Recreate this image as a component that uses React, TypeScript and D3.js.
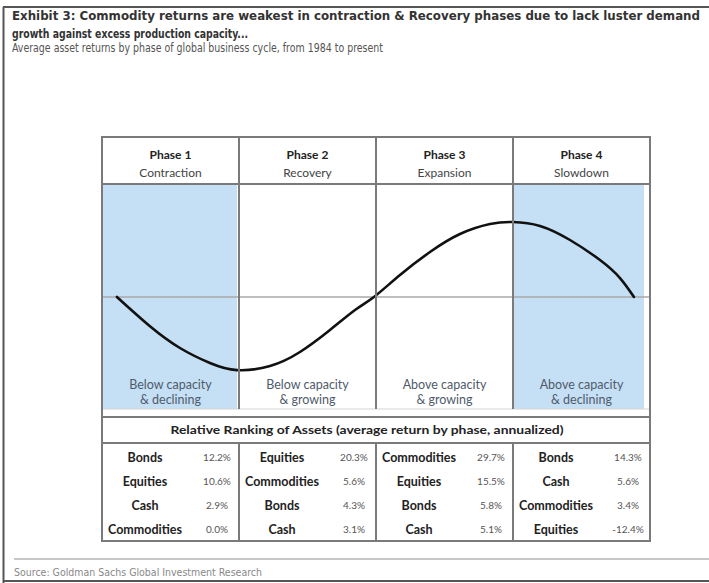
import React from "react";
import * as d3 from "d3";

const phaseLabels = ["Phase 1", "Phase 2", "Phase 3", "Phase 4"];
const phaseNames = ["Contraction", "Recovery", "Expansion", "Slowdown"];
const capacityLine1 = ["Below capacity", "Below capacity", "Above capacity", "Above capacity"];
const capacityLine2 = ["& declining", "& growing", "& growing", "& declining"];
const highlighted = [true, false, false, true];

const phase1Assets = ["Bonds", "Equities", "Cash", "Commodities"];
const phase1Returns = [12.2, 10.6, 2.9, 0.0];
const phase2Assets = ["Equities", "Commodities", "Bonds", "Cash"];
const phase2Returns = [20.3, 5.6, 4.3, 3.1];
const phase3Assets = ["Commodities", "Equities", "Bonds", "Cash"];
const phase3Returns = [29.7, 15.5, 5.8, 5.1];
const phase4Assets = ["Bonds", "Cash", "Commodities", "Equities"];
const phase4Returns = [14.3, 5.6, 3.4, -12.4];

// business cycle curve, x in phase units (0..4), y relative to trend (-1..1)
const cycleX = [0.109, 0.35, 0.569, 0.788, 0.985, 1.226, 1.445, 1.664, 1.847, 1.985, 2.175, 2.394, 2.613, 2.832, 3.0, 3.197, 3.416, 3.635, 3.781, 3.883];
const cycleY = [0, -0.39, -0.68, -0.88, -0.975, -0.92, -0.733, -0.44, -0.173, 0, 0.293, 0.6, 0.84, 0.973, 1.0, 0.947, 0.76, 0.493, 0.253, 0];

const titleLine1 = "Exhibit 3: Commodity returns are weakest in contraction & Recovery phases due to lack luster demand";
const titleLine2 = "growth against excess production capacity...";
const subtitle = "Average asset returns by phase of global business cycle, from 1984 to present";
const rankingTitle = "Relative Ranking of Assets (average return by phase, annualized)";
const source = "Source: Goldman Sachs Global Investment Research";

const W = 709;
const H = 583;

export default function App() {
  const x = d3.scaleLinear().domain([0, 4]).range([102, 650]);
  const y = d3.scaleLinear().domain([-1, 1]).range([372, 222]);
  const line = d3
    .line<number>()
    .x((_, i) => x(cycleX[i]))
    .y((d) => y(d))
    .curve(d3.curveNatural);

  const assets = [phase1Assets, phase2Assets, phase3Assets, phase4Assets];
  const returns = [phase1Returns, phase2Returns, phase3Returns, phase4Returns];
  const fmt = (v: number) => d3.format(".1f")(v).replace("\u2212", "-") + "%";

  const tableTop = 137;
  const headerBottom = 184;
  const blueBottom = 409;
  const rankTop = 417;
  const rankBottom = 443;
  const tableBottom = 541;
  const rowY = d3.scaleLinear().domain([0, 3]).range([457, 529]);

  const condensed = "'Liberation Sans Narrow', 'DejaVu Sans Condensed', 'Roboto Condensed', Roboto, sans-serif";
  const body = "Lato, 'Open Sans', sans-serif";
  const gridColor = "#7a7a7a";

  return (
    <svg width={W} height={H} style={{ position: "absolute", left: 0, top: 0, background: "#fff" }}>
      <rect x={0} y={0} width={W} height={H} fill="#fff" />
      {/* outer frame */}
      <line x1={3.5} y1={7} x2={3.5} y2={H} stroke="#555" strokeWidth={2} />
      <line x1={3} y1={7} x2={W} y2={7} stroke="#555" strokeWidth={2} />
      <line x1={3} y1={581} x2={W} y2={581} stroke="#555" strokeWidth={2} />

      {/* titles */}
      <text x={12} y={20} fontFamily={condensed} fontWeight="bold" fontSize={13} fill="#333"
        textLength={688} lengthAdjust="spacingAndGlyphs">{titleLine1}</text>
      <text x={12} y={38} fontFamily={condensed} fontWeight="bold" fontSize={13} fill="#333"
        textLength={236} lengthAdjust="spacingAndGlyphs">{titleLine2}</text>
      <text x={12} y={52} fontFamily={condensed} fontSize={11.5} fill="#555"
        textLength={371} lengthAdjust="spacingAndGlyphs">{subtitle}</text>

      {/* blue highlighted columns */}
      {highlighted.map((h, i) =>
        h ? (
          <rect key={"b" + i} x={x(i) + 1} y={headerBottom + 1}
            width={x(i + 1) - x(i) - (i === 3 ? 7 : 3)}
            height={blueBottom - headerBottom - 1} fill="#c5dff4" />
        ) : null
      )}
      {/* light line below capacity labels */}
      <line x1={x(0)} x2={x(4)} y1={blueBottom} y2={blueBottom} stroke="#d5d5d5" strokeWidth={1} />

      {/* midline */}
      <line x1={x(0)} x2={x(4)} y1={y(0)} y2={y(0)} stroke="#a8a8a8" strokeWidth={1.5} />

      {/* cycle curve */}
      <path d={line(cycleY) || ""} fill="none" stroke="#111" strokeWidth={2.6} strokeLinecap="round" />

      {/* table grid */}
      <rect x={x(0)} y={tableTop} width={x(4) - x(0)} height={tableBottom - tableTop} fill="none"
        stroke={gridColor} strokeWidth={2} />
      <line x1={x(0)} x2={x(4)} y1={headerBottom} y2={headerBottom} stroke={gridColor} strokeWidth={2} />
      <line x1={x(0)} x2={x(4)} y1={rankTop} y2={rankTop} stroke={gridColor} strokeWidth={2} />
      <line x1={x(0)} x2={x(4)} y1={rankBottom} y2={rankBottom} stroke={gridColor} strokeWidth={2} />
      {[1, 2, 3].map((i) => (
        <g key={"v" + i}>
          <line x1={x(i)} x2={x(i)} y1={tableTop} y2={blueBottom} stroke={gridColor} strokeWidth={2} />
          <line x1={x(i)} x2={x(i)} y1={rankBottom} y2={tableBottom} stroke={gridColor} strokeWidth={2} />
        </g>
      ))}

      {/* headers */}
      {phaseLabels.map((p, i) => {
        const cx = (x(i) + x(i + 1)) / 2;
        return (
          <g key={"h" + i}>
            <text x={cx} y={159} textAnchor="middle" fontFamily={body} fontWeight="bold" fontSize={12} fill="#222">{p}</text>
            <text x={cx} y={177} textAnchor="middle" fontFamily={body} fontSize={12} fill="#444">{phaseNames[i]}</text>
            <text x={cx} y={389} textAnchor="middle" fontFamily={body} fontSize={12.5} fill="#4f5b6b">{capacityLine1[i]}</text>
            <text x={cx} y={404} textAnchor="middle" fontFamily={body} fontSize={12.5} fill="#4f5b6b">{capacityLine2[i]}</text>
          </g>
        );
      })}

      <text x={367} y={434} textAnchor="middle" fontFamily={body} fontWeight="bold" fontSize={12} fill="#222"
        textLength={393} lengthAdjust="spacingAndGlyphs">{rankingTitle}</text>

      {/* ranking rows */}
      {assets.map((list, i) =>
        list.map((a, j) => (
          <g key={"r" + i + "-" + j}>
            <text x={x(i) + 43} y={rowY(j) + 4.5} textAnchor="middle" fontFamily={body} fontWeight="bold"
              fontSize={12.5} fill="#222">{a}</text>
            <text x={x(i) + 115} y={rowY(j) + 3.5} textAnchor="middle" fontFamily={body} fontSize={10}
              fill="#555">{fmt(returns[i][j])}</text>
          </g>
        ))
      )}

      {/* source */}
      <line x1={14} x2={W} y1={559} y2={559} stroke="#b5b5b5" strokeWidth={1.5} />
      <text x={14} y={576} fontFamily={condensed} fontSize={10} fill="#888"
        textLength={248} lengthAdjust="spacingAndGlyphs">{source}</text>
    </svg>
  );
}
